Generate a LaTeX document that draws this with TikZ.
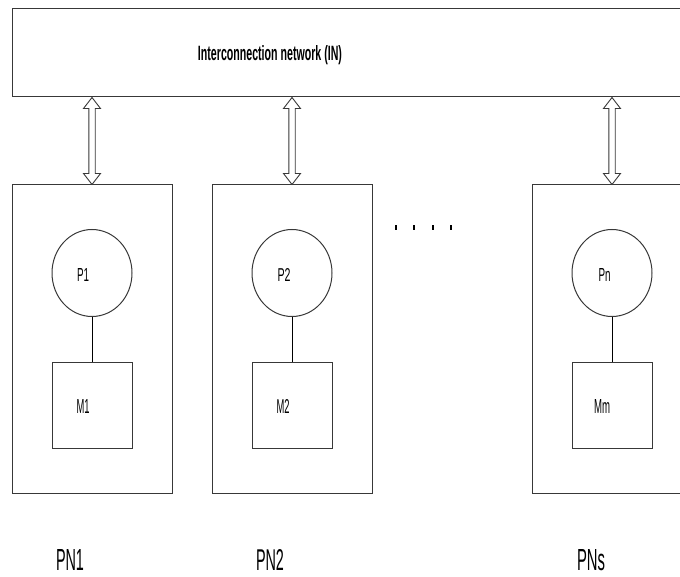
\documentclass[tikz,border=0pt]{standalone}
\usepackage{fontspec}
\setmainfont{Liberation Sans}
\usepackage{graphicx}
\usetikzlibrary{shapes.geometric,calc}

% text squeezed into a given width and height (pt)
\newcommand\squeezed[3]{\resizebox{#1pt}{#2pt}{#3}}
% hollow two-headed arrow from #1 (top tip) to #2 (bottom tip)
\newcommand\hollowarrow[2]{%
  \draw[arrowline] (#1) -- ++(8.5,11) -- ++(-5.3,0) -- ($(#2)+(3.2,-11)$)
    -- ++(5.3,0) -- (#2) -- ++(-8.5,-11) -- ++(5.3,0)
    -- ($(#1)+(-3.2,11)$) -- ++(-5.3,0) -- cycle;}

\begin{document}
\begin{tikzpicture}[x=1pt,y=-1pt,
  frame/.style={draw=black!78, line width=1pt},
  pebox/.style={frame, rectangle, minimum width=160pt, minimum height=308pt, inner sep=0pt},
  proc/.style={frame, ellipse, minimum width=80pt, minimum height=87pt, inner sep=0pt},
  mem/.style={frame, rectangle, minimum width=80pt, minimum height=86pt, inner sep=0pt},
  lbl/.style={inner sep=0pt, anchor=base},
  link/.style={draw=black, line width=0.9pt},
  arrowline/.style={draw=black!78, fill=white, line width=0.9pt, line join=miter}]
\useasboundingbox (0,0) rectangle (680,577);
\fill[white] (0,0) rectangle (680,577);
\clip (0,0) rectangle (680,577);

% interconnection network
\node[frame, rectangle, minimum width=690pt, minimum height=88pt, inner sep=0pt] (IN) at (357,53) {};
\node[lbl] (INtext) at (270,61) {\squeezed{144}{15}{\bfseries Interconnection network (IN)}};

% processing nodes
\node[pebox] (PE1) at (92,339) {};
\node[pebox] (PE2) at (292,339) {};
\node[pebox] (PE3) at (612,339) {};

% processors
\node[proc] (P1) at (92,273) {};
\node[proc] (P2) at (292,273) {};
\node[proc] (P3) at (612,273) {};
\node[lbl] (P1text) at (83,282) {\squeezed{12}{13}{P1}};
\node[lbl] (P2text) at (284,282) {\squeezed{13}{13}{P2}};
\node[lbl] (P3text) at (604.5,282) {\squeezed{12}{13}{Pn}};

% memories
\node[mem] (M1) at (92,405) {};
\node[mem] (M2) at (292,405) {};
\node[mem] (M3) at (612,405) {};
\node[lbl] (M1text) at (83,413) {\squeezed{13}{14}{M1}};
\node[lbl] (M2text) at (283,413) {\squeezed{13}{14}{M2}};
\node[lbl] (M3text) at (602,413) {\squeezed{16}{14}{Mm}};

% processor-memory links
\draw[link] (P1) -- (M1);
\draw[link] (P2) -- (M2);
\draw[link] (P3) -- (M3);

% links to the network
\coordinate (a1t) at (IN.south -| PE1.north);
\coordinate (a2t) at (IN.south -| PE2.north);
\coordinate (a3t) at (IN.south -| PE3.north);
\hollowarrow{a1t}{PE1.north}
\hollowarrow{a2t}{PE2.north}
\hollowarrow{a3t}{PE3.north}

% ellipsis between the nodes
\foreach \dx in {395,413,432,450}
  \fill[black] (\dx,225) rectangle ++(2.2,5);

% node captions
\node[lbl] (PN1) at (70,570) {\squeezed{28}{21}{PN1}};
\node[lbl] (PN2) at (270,570) {\squeezed{28}{21}{PN2}};
\node[lbl] (PNs) at (591,570) {\squeezed{28}{21}{PNs}};
\end{tikzpicture}
\end{document}
